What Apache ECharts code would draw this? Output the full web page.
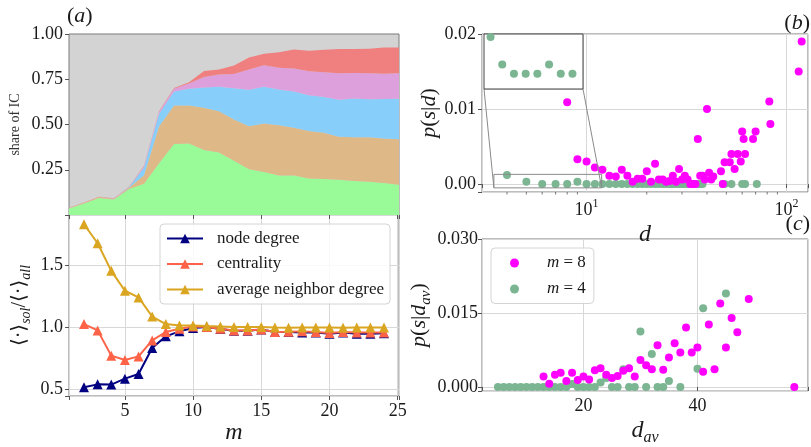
<!DOCTYPE html>
<html><head><meta charset="utf-8">
<script src="https://cdn.jsdelivr.net/npm/echarts@6/dist/echarts.min.js"></script>
<style>html,body{margin:0;padding:0;background:#fff}#c{width:811px;height:447px}</style>
</head><body><div id="c"></div>
<script>
// ---------- data ----------
const mValues = [2,3,4,5,6,7,8,9,10,11,12,13,14,15,16,17,18,19,20,21,22,23,24];
// shares of IC (stacked layers, bottom to top)
const shareGreen = [0.036,0.063,0.094,0.085,0.144,0.173,0.286,0.392,0.395,0.359,0.345,0.300,0.253,0.237,0.218,0.218,0.202,0.199,0.195,0.188,0.184,0.177,0.167];
const shareTan   = [0.004,0.004,0.005,0.005,0.007,0.047,0.203,0.213,0.210,0.234,0.228,0.228,0.238,0.269,0.278,0.264,0.262,0.255,0.237,0.241,0.245,0.246,0.251];
const shareBlue  = [0,0,0,0,0.002,0.042,0.070,0.077,0.092,0.112,0.135,0.172,0.201,0.202,0.198,0.201,0.197,0.198,0.205,0.214,0.210,0.218,0.224];
const sharePink  = [0.001,0.001,0.001,0.001,0.002,0.008,0.011,0.016,0.030,0.057,0.068,0.079,0.112,0.120,0.119,0.126,0.133,0.137,0.146,0.142,0.144,0.139,0.141];
const shareRed   = [0.001,0.001,0.001,0.001,0.001,0.002,0.003,0.004,0.007,0.034,0.028,0.047,0.066,0.063,0.086,0.106,0.114,0.124,0.134,0.132,0.136,0.146,0.143];
// ratios <.>_sol / <.>_all
const nodeDegree  = [0.513,0.537,0.535,0.583,0.621,0.830,0.925,0.965,0.992,1.000,0.985,0.970,0.970,0.980,0.960,0.960,0.955,0.955,0.945,0.955,0.945,0.945,0.950];
const centrality  = [1.024,0.973,0.769,0.734,0.763,0.892,0.960,0.986,1.005,1.000,0.986,0.973,0.973,0.980,0.960,0.962,0.965,0.960,0.952,0.960,0.955,0.955,0.955];
const avgNeighbor = [1.830,1.677,1.454,1.293,1.239,1.085,1.024,1.013,1.013,1.008,1.005,1.000,1.000,1.000,0.997,0.995,0.997,0.997,0.997,0.995,0.997,0.997,0.997];
// panel (b): p(s|d)
const bM8d = [8,9,10,11,12,13,14,15,16,17,18,19,20,21,22,23,24,25,26,27,28,29,30,31,32,33,34,35,36,37,38,39,40,41,42,43,47,48,49,52,53,55,57,59,60,61,62,68,70,82,83,115,119];
const bM8p = [0.0109,0.0033,0.003,0.0022,0.0019,0.0011,0.001,0.0019,0.0011,0.0003,0.0007,0.0007,0.0017,0.0003,0.0027,0.0006,0.0006,0.0003,0.0004,0.0011,0.0003,0.002,0.0006,0.0011,0.0006,0,0,0,0.006,0.0011,0.0011,0.0006,0.01,0.0015,0.0006,0.001,0.0017,0,0.0029,0.0029,0.004,0.002,0.004,0.003,0.007,0.006,0.004,0.006,0.007,0.011,0.008,0.015,0.019];
const bM4d = [4,5,6,7,8,9,10,11,12,13,14,15,16,17,18,19,20,21,22,23,24,25,26,27,28,29,30,31,32,33,34,35,36,37,38,48,49,53,60,62,71];
const bM4p = [0.0012,0.0003,0,0,0,0.0003,0,0,0,0,0,0,0,0,0,0,0,0,0,0,0,0,0,0,0,0,0,0,0,0,0,0,0,0,0,0,0,0,0,0,0];
// panel (c): p(s|d_av)
const cM8d = [13,14,15,16,17,18,19,20,21,22,23,24,25,26,27,28,29,30,31,32,33,34,35,36,37,38,39,40,41,42,43,44,45,46,47,49,57];
const cM8p = [0.0021,0.00065,0.0025,0.0029,0.0012,0.0029,0.0014,0.0021,0.0015,0.0034,0.0038,0.0025,0.0018,0.0022,0.0033,0.0038,0.0021,0.0055,0.0044,0.0036,0.0085,0.0035,0.006,0.0089,0.007,0.0121,0.007,0.008,0.0031,0.0127,0.0036,0.017,0.008,0.014,0.0111,0.0179,0];
const cM4d = [5,6,7,8,9,10,11,12,13,14,15,16,17,18,19,20,21,22,23,24,25,26,27,28,29,30,31,32,33,34,35,37,40,41,45];
const cM4p = [0,0,0,0,0,0,0,0,0,0,0,0,0,0.0006,0,0,0,0,0.0009,0.0018,0,0,0.0036,0,0,0.0113,0,0.0067,0,0,0.0012,0,0.0037,0.016,0.019];
// tick steps
const stepM = 5, stepTopY = 0.25, stepRatio = 0.5, stepB = 0.01, stepC = 0.015, stepDav = 20;
// minor ticks of the log axis in panel (b)
const logMinor = [4,5,6,7,8,9,20,30,40,50,60,70,80,90];
// inset view (zoom window of panel b)
const insetX = [3.44, 11.9], insetY = [-0.0005, 0.0013];

// ---------- helpers ----------
const zip = (a, b) => a.map((v, i) => [v, b[i]]);
const isMult = (v, s) => Math.abs(v / s - Math.round(v / s)) < 1e-6;
const SERIF = "'Liberation Serif','DejaVu Serif','DejaVu Sans',serif";
const FRAME = '#7a7a7a', GRIDLINE = '#d8d8d8', TICK = '#555', TXT = '#1a1a1a';
const MAGENTA = '#ff00ff', SEA = '#7bb592';
const tick = {show: true, inside: false, length: 4, lineStyle: {color: TICK, width: 1}};
const noLine = {show: false};
const lbl = (extra) => Object.assign({fontFamily: SERIF, fontSize: 18, color: TXT}, extra);
const split = {show: true, lineStyle: {color: GRIDLINE, width: 1}};
const panelTitle = (t, pos) => Object.assign({text: t, padding: 0, itemGap: 0,
  textStyle: {fontFamily: SERIF, fontSize: 22, fontWeight: 'normal', color: TXT, lineHeight: 24,
    rich: {i: {fontFamily: SERIF, fontStyle: 'italic', fontSize: 22, color: TXT, lineHeight: 24}}}}, pos);

const chart = echarts.init(document.getElementById('c'), null, {renderer: 'canvas'});

const option = {
  animation: false,
  backgroundColor: '#fff',
  title: [
    panelTitle('({i|a})', {left: 67, top: 4}),
    panelTitle('({i|b})', {right: 1, top: 11}),
    panelTitle('({i|c})', {right: 1, top: 212})
  ],
  grid: [
    {left: 69, top: 34, width: 330, height: 181, show: true, backgroundColor: '#d3d3d3', borderColor: FRAME, borderWidth: 1},
    {left: 69, top: 215, width: 330, height: 181, show: true, borderColor: FRAME, borderWidth: 1},
    {left: 482, top: 34, width: 328, height: 158, show: true, borderColor: FRAME, borderWidth: 1},
    {left: 482, top: 239, width: 328, height: 157, show: true, borderColor: FRAME, borderWidth: 1},
    {left: 484, top: 34, width: 99, height: 55, show: true, backgroundColor: '#fff', borderColor: '#444', borderWidth: 1, z: 5}
  ],
  xAxis: [
    {gridIndex: 0, type: 'category', data: mValues, boundaryGap: false, show: false},
    {gridIndex: 0, type: 'value', position: 'bottom', min: 0.9, max: 25.1, minInterval: stepM, maxInterval: stepM,
     axisLine: noLine, axisTick: tick, axisLabel: {show: false}, splitLine: {show: false}},
    {gridIndex: 1, type: 'value', min: 0.9, max: 25.1, minInterval: stepM, maxInterval: stepM,
     name: 'm', nameLocation: 'middle', nameGap: 19,
     nameTextStyle: {fontFamily: SERIF, fontStyle: 'italic', fontSize: 24, color: TXT},
     axisLine: noLine, axisTick: tick, splitLine: split,
     axisLabel: lbl({margin: 6, formatter: v => isMult(v, stepM) ? String(Math.round(v)) : ''})},
    {gridIndex: 2, type: 'log', logBase: 10, min: 3.0, max: 128,
     name: 'd', nameLocation: 'middle', nameGap: 13,
     nameTextStyle: {fontFamily: SERIF, fontStyle: 'italic', fontSize: 24, color: TXT},
     axisLine: noLine, axisTick: tick, splitLine: split,
     axisLabel: lbl({margin: 6, formatter: v => {
        const e = Math.log10(v); return Math.abs(e - Math.round(e)) < 1e-6 ? '10{sup|' + Math.round(e) + '}' : '';
      }, rich: {sup: {fontFamily: SERIF, fontSize: 12, color: TXT, verticalAlign: 'top', lineHeight: 12}}, lineHeight: 24})},
    {gridIndex: 3, type: 'value', min: 2.2, max: 59.4, minInterval: stepDav, maxInterval: stepDav,
     name: '{i|d}{sub|av}', nameLocation: 'middle', nameGap: 17,
     nameTextStyle: {fontFamily: SERIF, fontSize: 24, color: TXT, lineHeight: 30,
       rich: {i: {fontFamily: SERIF, fontStyle: 'italic', fontSize: 24, color: TXT, lineHeight: 30},
              sub: {fontFamily: SERIF, fontStyle: 'italic', fontSize: 16, color: TXT, verticalAlign: 'bottom', lineHeight: 16}}},
     axisLine: noLine, axisTick: tick, splitLine: split,
     axisLabel: lbl({margin: 6, formatter: v => isMult(v, stepDav) ? String(Math.round(v)) : ''})},
    {gridIndex: 4, type: 'value', min: insetX[0], max: insetX[1], minInterval: 5, maxInterval: 5,
     axisLine: noLine, axisTick: {show: false}, axisLabel: {show: false}, splitLine: split}
  ],
  yAxis: [
    {gridIndex: 0, type: 'value', min: 0, max: 1, interval: stepTopY,
     name: 'share of IC', nameLocation: 'middle', nameGap: 47,
     nameTextStyle: {fontFamily: SERIF, fontSize: 14, color: '#333'},
     axisLine: noLine, axisTick: tick, splitLine: {show: false},
     axisLabel: lbl({margin: 6, formatter: v => v === 0 ? '' : v.toFixed(2)})},
    {gridIndex: 1, type: 'value', min: 0.443, max: 1.905, minInterval: stepRatio, maxInterval: stepRatio,
     name: '⟨·⟩{sub|sol}/⟨·⟩{sub|all}', nameLocation: 'middle', nameGap: 36,
     nameTextStyle: {fontFamily: SERIF, fontSize: 20, color: TXT, lineHeight: 26,
       rich: {sub: {fontFamily: SERIF, fontStyle: 'italic', fontSize: 14, color: TXT, verticalAlign: 'bottom', lineHeight: 14}}},
     axisLine: noLine, axisTick: tick, splitLine: split,
     axisLabel: lbl({margin: 6, formatter: v => isMult(v, stepRatio) ? v.toFixed(1) : ''})},
    {gridIndex: 2, type: 'value', min: -0.00105, max: 0.02, minInterval: stepB, maxInterval: stepB,
     name: '{i|p}({i|s}|{i|d})', nameLocation: 'middle', nameGap: 38,
     nameTextStyle: {fontFamily: SERIF, fontSize: 22, color: TXT,
       rich: {i: {fontFamily: SERIF, fontStyle: 'italic', fontSize: 22, color: TXT}}},
     axisLine: noLine, axisTick: tick, splitLine: split,
     axisLabel: lbl({margin: 6, formatter: v => isMult(v, stepB) ? v.toFixed(2) : ''})},
    {gridIndex: 3, type: 'value', min: -0.00085, max: 0.0301, minInterval: stepC, maxInterval: stepC,
     name: '{i|p}({i|s}|{i|d}{sub|av})', nameLocation: 'middle', nameGap: 48,
     nameTextStyle: {fontFamily: SERIF, fontSize: 22, color: TXT, lineHeight: 28,
       rich: {i: {fontFamily: SERIF, fontStyle: 'italic', fontSize: 22, color: TXT, lineHeight: 28},
              sub: {fontFamily: SERIF, fontStyle: 'italic', fontSize: 15, color: TXT, verticalAlign: 'bottom', lineHeight: 15}}},
     axisLine: noLine, axisTick: tick, splitLine: split,
     axisLabel: lbl({margin: 4, formatter: v => isMult(v, stepC) ? v.toFixed(3) : ''})},
    {gridIndex: 4, type: 'value', min: insetY[0], max: insetY[1], minInterval: 0.001, maxInterval: 0.001,
     axisLine: noLine, axisTick: {show: false}, axisLabel: {show: false}, splitLine: split}
  ],
  legend: [
    {data: ['node degree', 'centrality', 'average neighbor degree'], orient: 'vertical', left: 160, top: 224,
     itemWidth: 36, itemHeight: 12, itemGap: 8.5, padding: [6, 6, 6, 6],
     backgroundColor: 'rgba(255,255,255,0.85)', borderColor: '#d4d4d4', borderWidth: 1, borderRadius: 4,
     textStyle: {fontFamily: SERIF, fontSize: 17, color: TXT, padding: [0, 0, 0, 9]}},
    {data: ['m = 8', 'm = 4'], orient: 'vertical', left: 491, top: 248, icon: 'circle',
     itemWidth: 9, itemHeight: 9, itemGap: 9, padding: [6.5, 8, 6, 19],
     backgroundColor: 'rgba(255,255,255,0.85)', borderColor: '#d4d4d4', borderWidth: 1, borderRadius: 4,
     formatter: n => '{i|m}' + n.slice(1),
     textStyle: {fontFamily: SERIF, fontSize: 17, color: TXT, padding: [0, 0, 0, 23],
       rich: {i: {fontFamily: SERIF, fontStyle: 'italic', fontSize: 17, color: TXT}}}}
  ],
  series: [
    ...[[shareGreen, '#98fb98'], [shareTan, '#deb887'], [shareBlue, '#87cefa'], [sharePink, '#dda0dd'], [shareRed, '#f08080']]
      .map(([d, c], k) => ({type: 'line', name: 'layer' + k, xAxisIndex: 0, yAxisIndex: 0, stack: 'ic', data: d,
        symbol: 'none', lineStyle: {width: 0, color: c}, itemStyle: {color: c}, areaStyle: {color: c, opacity: 1}})),
    ...[[nodeDegree, 'node degree', '#000080'], [centrality, 'centrality', '#ff6347'], [avgNeighbor, 'average neighbor degree', '#daa520']]
      .map(([d, n, c]) => ({type: 'line', name: n, xAxisIndex: 2, yAxisIndex: 1, data: zip(mValues, d),
        symbol: 'triangle', symbolSize: 10, lineStyle: {width: 2, color: c}, itemStyle: {color: c}})),
    {type: 'scatter', name: 'b4', xAxisIndex: 3, yAxisIndex: 2, data: zip(bM4d, bM4p), symbolSize: 8, itemStyle: {color: SEA, opacity: 1}},
    {type: 'scatter', name: 'b8', xAxisIndex: 3, yAxisIndex: 2, data: zip(bM8d, bM8p), symbolSize: 8, itemStyle: {color: MAGENTA, opacity: 1}},
    {type: 'scatter', name: 'i4', xAxisIndex: 5, yAxisIndex: 4, data: zip(bM4d, bM4p), symbolSize: 8, clip: true, z: 6, itemStyle: {color: SEA, opacity: 1}},
    {type: 'scatter', name: 'i8', xAxisIndex: 5, yAxisIndex: 4, data: zip(bM8d, bM8p), symbolSize: 8, clip: true, z: 6, itemStyle: {color: MAGENTA, opacity: 1}},
    {type: 'scatter', name: 'm = 4', xAxisIndex: 4, yAxisIndex: 3, data: zip(cM4d, cM4p), symbolSize: 8, itemStyle: {color: SEA, opacity: 1}},
    {type: 'scatter', name: 'm = 8', xAxisIndex: 4, yAxisIndex: 3, data: zip(cM8d, cM8p), symbolSize: 8, itemStyle: {color: MAGENTA, opacity: 1}}
  ]
};
chart.setOption(option);

// inset indicator: rectangle in panel (b) + connector lines, computed through the axes
const main = {xAxisIndex: 3, yAxisIndex: 2}, ins = {xAxisIndex: 5, yAxisIndex: 4};
const rTL = chart.convertToPixel(main, [insetX[0], insetY[1]]);
const rBR = chart.convertToPixel(main, [insetX[1], insetY[0]]);
const iBL = chart.convertToPixel(ins, [insetX[0], insetY[0]]);
const iBR = chart.convertToPixel(ins, [insetX[1], insetY[0]]);
const axisBottom = chart.convertToPixel(main, [10, -0.00105])[1];
const minorTicks = logMinor.map(v => {
  const x = chart.convertToPixel({xAxisIndex: 3}, v);
  return {type: 'line', z: 4, shape: {x1: x, y1: axisBottom, x2: x, y2: axisBottom + 2.5}, style: {stroke: TICK, lineWidth: 0.8}};
});
chart.setOption({graphic: [
  {type: 'rect', z: 4, shape: {x: rTL[0], y: rTL[1], width: rBR[0] - rTL[0], height: rBR[1] - rTL[1]},
   style: {fill: 'none', stroke: '#8a8a8a', lineWidth: 1}},
  {type: 'line', z: 4, shape: {x1: iBL[0], y1: iBL[1], x2: rTL[0], y2: rBR[1]}, style: {stroke: '#8a8a8a', lineWidth: 1}},
  {type: 'line', z: 4, shape: {x1: iBR[0], y1: iBR[1], x2: rBR[0], y2: rBR[1]}, style: {stroke: '#8a8a8a', lineWidth: 1}},
  ...minorTicks
]});
</script></body></html>
